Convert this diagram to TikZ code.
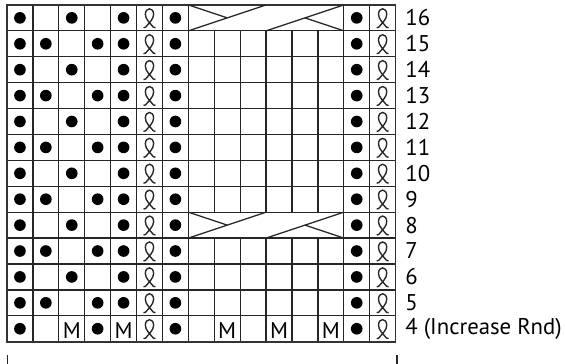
\documentclass[tikz,border=0pt]{standalone}
\usepackage{fontspec}
\setmainfont{PT Sans}
\usetikzlibrary{positioning}

\tikzset{
    gridline/.style={line width=1.4pt, black!85},
    frame/.style={line width=1.8pt, black!80},
    purl/.style={circle, fill=black, inner sep=0pt, minimum size=0.45cm},
    cable/.style={line width=1.4pt, black!85},
    mstitch/.style={inner sep=0pt, font=\fontsize{25}{28}\selectfont},
    rowlabel/.style={anchor=west, inner sep=0pt, font=\fontsize{25}{28}\selectfont},
    twisted/.pic={
        \draw[line width=1.5pt, black!85]
            (-0.23,-0.38) -- (-0.15,-0.36)
            .. controls (-0.06,-0.24) and (0.17,-0.05) .. (0.16,0.14)
            .. controls (0.15,0.42) and (-0.15,0.42) .. (-0.16,0.14)
            .. controls (-0.17,-0.05) and (0.06,-0.24) .. (0.15,-0.36)
            -- (0.23,-0.38);
    },
}

\begin{document}
\begin{tikzpicture}[x=1cm, y=1cm]
\useasboundingbox[fill=white] (-0.27,-0.86) rectangle (21.54,13.19);

% horizontal rules
\foreach \y in {1,...,12}
    \draw[gridline] (0,\y) -- (15,\y);

% vertical rules, broken in the two cable rounds
\foreach \x in {1,2,3,4,5,6,7,13,14}
    \draw[gridline] (\x,0) -- (\x,13);
\foreach \x in {8,9,10,11,12} {
    \draw[gridline] (\x,0) -- (\x,4);
    \draw[gridline] (\x,5) -- (\x,12);
}
\draw[frame] (0,0) rectangle (15,13);

% purl columns on the left
\foreach \r in {5,...,16} {
    \pgfmathtruncatemacro{\odd}{mod(\r,2)}
    \ifnum\odd=0
        \foreach \c in {0.5,2.5,4.5}
            \node[purl] (p\r-\c) at (\c,\r-3.5) {};
    \else
        \foreach \c in {0.5,1.5,3.5,4.5}
            \node[purl] (p\r-\c) at (\c,\r-3.5) {};
    \fi
}
\node[purl] (p4a) at (0.5,0.5) {};
\node[purl] (p4b) at (3.5,0.5) {};

% twisted and purl stitches framing the cable
\foreach \r in {4,...,16} {
    \pic at (5.5,\r-3.5) {twisted};
    \node[purl] (q\r) at (6.5,\r-3.5) {};
    \node[purl] (s\r) at (13.5,\r-3.5) {};
    \pic at (14.5,\r-3.5) {twisted};
}

% make-one increases
\foreach \c in {2.5,4.5,8.5,10.5,12.5}
    \node[mstitch] (m\c) at (\c,0.42) {M};

% cable crossings (rounds 8 and 16)
\foreach \y in {4,12} {
    \draw[cable] (7,\y) -- (10,\y+1);
    \draw[cable] (7,\y+1) -- (8.5,\y+0.5);
    \draw[cable] (10,\y) -- (13,\y+1);
    \draw[cable] (11.5,\y+0.5) -- (13,\y);
}

% round numbers
\foreach \r in {5,...,16}
    \node[rowlabel] (r\r) at (15.37,\r-3.5) {\r};
\node[rowlabel] (r4) at (15.37,0.5) {4 (Increase Rnd)};

% repeat bracket ends
\draw[gridline] (0.03,-0.86) -- (0.03,-0.51);
\draw[gridline] (15.05,-0.86) -- (15.05,-0.51);
\end{tikzpicture}
\end{document}
